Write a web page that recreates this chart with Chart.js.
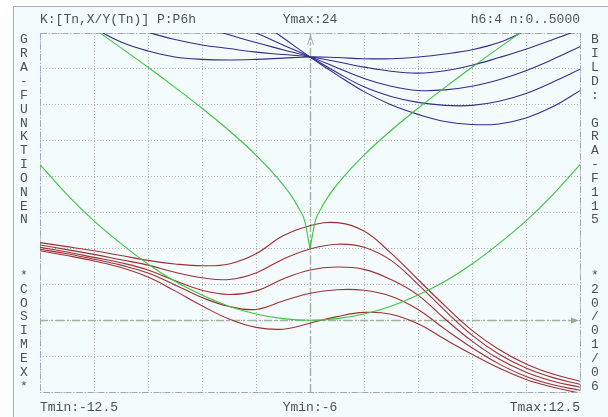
<!DOCTYPE html>
<html><head><meta charset="utf-8">
<script src="https://cdn.jsdelivr.net/npm/chart.js@4.4.1/dist/chart.umd.min.js"></script>
<style>html,body{margin:0;padding:0;background:#fff}canvas{display:block}</style>
</head><body>
<canvas id="c" width="608" height="417"></canvas>
<script>
// parameter grid shared by the red family and the parabola
const T_FULL = [-12.5,-11.25,-10,-8.75,-7.5,-6.25,-5,-3.75,-2.5,-1.25,0,1.25,2.5,3.75,5,6.25,7.5,8.75,10,11.25,12.5];

const RED_1 = [6.48,6.15,5.8,5.4,5.0,4.7,4.55,4.7,5.55,7.05,7.9,8.15,7.45,5.6,3.4,1.2,-0.85,-2.45,-3.65,-4.5,-5.1];
const RED_2 = [6.28,5.9,5.5,5.05,4.6,4.0,3.55,3.4,3.95,5.1,5.95,6.35,6.1,5.0,3.0,0.8,-1.25,-2.85,-4.0,-4.8,-5.35];
const RED_3 = [6.09,5.7,5.25,4.8,4.2,3.3,2.5,2.15,2.45,3.45,4.2,4.45,4.25,3.4,2.1,0.1,-1.75,-3.25,-4.35,-5.1,-5.6];
const RED_4 = [5.93,5.55,5.1,4.6,3.95,2.95,1.9,1.15,0.9,1.6,2.25,2.55,2.5,2.0,0.9,-0.75,-2.3,-3.65,-4.7,-5.4,-5.85];
const RED_5 = [5.81,5.4,4.95,4.4,3.6,2.45,1.2,0.1,-0.6,-0.75,-0.25,0.3,0.65,0.5,-0.3,-1.6,-2.85,-4.0,-4.95,-5.6,-6.1];

const GREEN_BOWL = [13.0,10.5,8.3,6.4,4.7,3.25,2.1,1.17,0.52,0.13,0,0.13,0.52,1.17,2.1,3.25,4.7,6.4,8.3,10.5,13.0];

// the cusp curve, one branch each side of T = 0
const T_CUSP_L = [-10,-8.75,-7.5,-6.25,-5,-3.75,-2.5,-1.5,-1,-0.5,-0.25,0];
const CUSP_L = [24.35,22.76,21.14,19.46,17.71,15.85,13.8,11.88,10.74,9.3,8.32,6.0];
const T_CUSP_R = [0,0.25,0.5,1,1.5,2.5,3.75,5,6.25,7.5,8.75,10];
const CUSP_R = [6.0,8.32,9.3,10.74,11.88,13.8,15.85,17.71,19.46,21.14,22.76,24.35];

// blue family, all through (0, 22)
const T_BLUE = [-10,-8.75,-7.5,-6.25,-5,-3.75,-2.5,-1.25,0,1.25,2.5,3.75,5,6.25,7.5,8.75,10,11.25,12.5];
const BLUE_A = [24.4,23.25,22.5,22.0,21.8,21.75,21.8,21.9,22.0,21.95,21.85,21.85,22.0,22.25,22.6,23.2,24.2,null,null];
const BLUE_B = [null,null,24.05,23.45,23.0,22.7,22.4,22.2,22.0,21.6,21.15,20.8,20.65,20.85,21.3,21.95,22.65,23.45,24.3];
const BLUE_C = [null,null,null,null,24.5,23.85,23.2,22.6,22.0,21.1,20.2,19.55,19.2,19.25,19.55,20.1,20.85,21.8,22.86];
const BLUE_D = [null,null,null,null,null,24.8,24.0,23.0,22.0,20.7,19.5,18.7,18.2,17.95,17.95,18.3,18.95,19.9,20.97];
const BLUE_E = [null,null,null,null,null,null,25.2,23.6,22.0,20.5,19.1,18.0,17.2,16.6,16.35,16.4,16.9,17.85,19.18];

const T_MIN = -12.5, T_MAX = 12.5, Y_MIN = -6, Y_MAX = 24;

const HEAD_LEFT = 'K:[Tn,X/Y(Tn)] P:P6h';
const HEAD_MID = 'Ymax:24';
const HEAD_RIGHT = 'h6:4 n:0..5000';
const FOOT_LEFT = 'Tmin:-12.5';
const FOOT_MID = 'Ymin:-6';
const FOOT_RIGHT = 'Tmax:12.5';
const SIDE_LEFT = ['G','R','A','-','F','U','N','K','T','I','O','N','E','N','','','','*','C','O','S','I','M','E','X','*'];
const SIDE_RIGHT = ['B','I','L','D',':','','G','R','A','-','F','1','1','5','','','','*','2','0','/','0','1','/','0','6'];

const BLUE = '#2e2e8c', RED = '#a02f33', GREEN = '#3cc43c';

function pts(ts, ys) { return ts.map((t, i) => ({ x: t, y: ys[i] })); }
function line(ts, ys, color, mode) {
  return { data: pts(ts, ys), borderColor: color, borderWidth: 1.1, pointRadius: 0,
           fill: false, cubicInterpolationMode: mode || 'default', tension: 0.4, spanGaps: false };
}

const FONT = '13px "Liberation Mono", monospace';

const decor = {
  id: 'decor',
  beforeDraw(chart) {
    const ctx = chart.ctx;
    ctx.save();
    ctx.fillStyle = '#ffffff';
    ctx.fillRect(0, 0, chart.width, chart.height);
    ctx.fillStyle = '#f4fbfd';
    ctx.fillRect(13, 6, chart.width - 13, chart.height - 6);
    ctx.strokeStyle = '#a9abb3';
    ctx.lineWidth = 1;
    ctx.beginPath();
    ctx.moveTo(13.5, chart.height);
    ctx.lineTo(13.5, 6.5);
    ctx.lineTo(chart.width, 6.5);
    ctx.stroke();
    ctx.restore();
  },
  beforeDatasetsDraw(chart) {
    const { ctx, chartArea: a, scales: { x, y } } = chart;
    ctx.save();
    // plot frame
    ctx.strokeStyle = '#a2a6b4';
    ctx.lineWidth = 1;
    ctx.setLineDash([6, 2, 1, 2]);
    ctx.strokeRect(Math.round(a.left) + 0.5, Math.round(a.top) + 0.5,
                   Math.round(a.right - a.left), Math.round(a.bottom - a.top));
    // coordinate axes
    const x0 = Math.round(x.getPixelForValue(0)) + 0.5;
    const y0 = Math.round(y.getPixelForValue(0)) + 0.5;
    ctx.strokeStyle = '#9db49d';
    ctx.lineWidth = 1.4;
    ctx.setLineDash([8, 3, 2, 3]);
    ctx.beginPath();
    ctx.moveTo(x0, a.bottom); ctx.lineTo(x0, a.top);
    ctx.moveTo(a.left, y0); ctx.lineTo(a.right, y0);
    ctx.stroke();
    ctx.setLineDash([]);
    // arrow heads
    ctx.lineWidth = 1;
    ctx.beginPath();
    ctx.moveTo(x0 - 3, a.top + 12); ctx.lineTo(x0, a.top + 3); ctx.lineTo(x0 + 3, a.top + 12);
    ctx.stroke();
    ctx.fillStyle = '#8fb08f';
    ctx.beginPath();
    ctx.moveTo(a.right - 1, y0); ctx.lineTo(a.right - 9, y0 - 3); ctx.lineTo(a.right - 9, y0 + 3);
    ctx.closePath(); ctx.fill();
    ctx.restore();
  },
  afterDraw(chart) {
    const { ctx, chartArea: a, scales: { x } } = chart;
    const xc = x.getPixelForValue(0);
    ctx.save();
    ctx.font = FONT;
    ctx.fillStyle = '#505050';
    ctx.textBaseline = 'middle';
    ctx.textAlign = 'left';
    ctx.fillText(HEAD_LEFT, a.left, 20);
    ctx.fillText(FOOT_LEFT, a.left, 408);
    ctx.textAlign = 'center';
    ctx.fillText(HEAD_MID, xc, 20);
    ctx.fillText(FOOT_MID, xc, 408);
    ctx.textAlign = 'right';
    ctx.fillText(HEAD_RIGHT, a.right, 20);
    ctx.fillText(FOOT_RIGHT, a.right, 408);
    ctx.textAlign = 'center';
    const step = 13.85;
    SIDE_LEFT.forEach((c, i) => { if (c) ctx.fillText(c, 24, 40 + i * step); });
    SIDE_RIGHT.forEach((c, i) => { if (c) ctx.fillText(c, 595, 40 + i * step); });
    ctx.restore();
  }
};

const gridOpts = { color: '#b4acb4', lineWidth: 1, drawTicks: false };
const borderOpts = { display: false, dash: [1, 2] };

new Chart(document.getElementById('c'), {
  type: 'line',
  data: {
    datasets: [
      line(T_FULL, GREEN_BOWL, GREEN),
      line(T_CUSP_L, CUSP_L, GREEN, 'monotone'),
      line(T_CUSP_R, CUSP_R, GREEN, 'monotone'),
      line(T_BLUE, BLUE_A, BLUE),
      line(T_BLUE, BLUE_B, BLUE),
      line(T_BLUE, BLUE_C, BLUE),
      line(T_BLUE, BLUE_D, BLUE),
      line(T_BLUE, BLUE_E, BLUE),
      line(T_FULL, RED_1, RED),
      line(T_FULL, RED_2, RED),
      line(T_FULL, RED_3, RED),
      line(T_FULL, RED_4, RED),
      line(T_FULL, RED_5, RED)
    ]
  },
  options: {
    responsive: false,
    animation: false,
    devicePixelRatio: 1,
    layout: { padding: { left: 40, right: 28, top: 33, bottom: 25 } },
    plugins: { legend: { display: false }, tooltip: { enabled: false } },
    scales: {
      x: { type: 'linear', min: T_MIN, max: T_MAX, ticks: { display: false, stepSize: 2.5 },
           grid: gridOpts, border: borderOpts },
      y: { type: 'linear', min: Y_MIN, max: Y_MAX, ticks: { display: false, stepSize: 3 },
           grid: gridOpts, border: borderOpts }
    }
  },
  plugins: [decor]
});
</script>
</body></html>
